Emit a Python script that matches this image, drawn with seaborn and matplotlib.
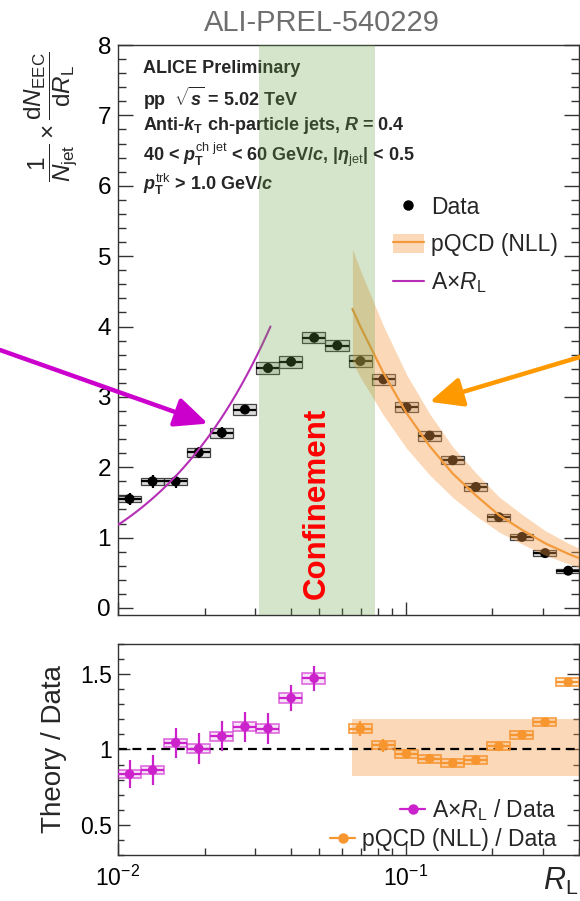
import numpy as np
import pandas as pd
import matplotlib
matplotlib.use("Agg")
import matplotlib.pyplot as plt
import seaborn as sns
from matplotlib.lines import Line2D
from matplotlib.patches import Patch
from matplotlib.ticker import LogLocator, MultipleLocator, NullFormatter, FixedLocator

# ---------------- data ----------------
bin_edges = [0.01, 0.01203, 0.01447, 0.01740, 0.02092, 0.02516, 0.03027, 0.03640,
             0.04378, 0.05265, 0.06332, 0.07616, 0.09160, 0.1102, 0.1325, 0.1593,
             0.1916, 0.2305, 0.2772, 0.3334, 0.4]
rl_centers = [0.01097, 0.01319, 0.01587, 0.01909, 0.02296, 0.02763, 0.03323, 0.03998,
              0.04809, 0.05786, 0.06960, 0.08373, 0.1007, 0.1212, 0.1458, 0.1754,
              0.2110, 0.2538, 0.3053, 0.3673]
eec_data = [1.55, 1.80, 1.80, 2.21, 2.49, 2.82, 3.41, 3.50, 3.84, 3.73,
            3.51, 3.25, 2.85, 2.45, 2.10, 1.72, 1.29, 1.01, 0.78, 0.53]
eec_stat = [0.09, 0.095, 0.09, 0.08, 0.08, 0.07, 0.07, 0.06, 0.06, 0.06,
            0.05, 0.05, 0.05, 0.05, 0.04, 0.04, 0.04, 0.03, 0.03, 0.03]
eec_sys = [0.045, 0.05, 0.05, 0.07, 0.07, 0.076, 0.088, 0.083, 0.078, 0.083,
           0.08, 0.076, 0.071, 0.071, 0.057, 0.059, 0.052, 0.047, 0.047, 0.03]

# pQCD (NLL) curve and its uncertainty band
nll_rl = [0.0653, 0.0696, 0.0837, 0.1007, 0.1212, 0.1458, 0.1754, 0.2110, 0.2538, 0.3053, 0.3673, 0.40]
nll_val = [4.25, 4.00, 3.34, 2.77, 2.30, 1.91, 1.60, 1.32, 1.11, 0.92, 0.77, 0.71]
nll_hi = [5.10, 4.80, 4.01, 3.32, 2.76, 2.29, 1.92, 1.58, 1.33, 1.10, 0.92, 0.85]
nll_lo = [3.49, 3.28, 2.74, 2.27, 1.89, 1.57, 1.31, 1.08, 0.91, 0.75, 0.63, 0.58]

# A x R_L model
lin_A = 118.0
lin_rl_range = [0.01, 0.0339]

# ratio panel
lin_bins = [0, 1, 2, 3, 4, 5, 6, 7, 8]
ratio_lin = [0.836, 0.863, 1.045, 1.006, 1.087, 1.151, 1.139, 1.341, 1.472]
ratio_lin_stat = [0.092, 0.10, 0.10, 0.10, 0.10, 0.10, 0.10, 0.086, 0.083]
ratio_lin_sys = [0.025, 0.025, 0.027, 0.027, 0.028, 0.03, 0.03, 0.035, 0.037]
nll_bins = [10, 11, 12, 13, 14, 15, 16, 17, 18, 19]
ratio_nll = [1.139, 1.028, 0.971, 0.939, 0.910, 0.929, 1.021, 1.097, 1.181, 1.447]
ratio_nll_stat = [0.048, 0.042, 0.02, 0.02, 0.02, 0.02, 0.02, 0.02, 0.02, 0.02]
ratio_nll_sys = [0.027, 0.027, 0.027, 0.027, 0.027, 0.027, 0.027, 0.027, 0.027, 0.027]
ratio_band_rl = [0.0653, 0.40]
ratio_band_lo = [0.823, 0.823]
ratio_band_hi = [1.20, 1.20]

confinement_range = [0.031, 0.078]

# ---------------- style ----------------
sns.set_theme(style="ticks")
plt.rcParams["font.family"] = ["Liberation Sans", "DejaVu Sans"]
plt.rcParams["mathtext.fontset"] = "custom"
plt.rcParams["mathtext.rm"] = "Liberation Sans"
plt.rcParams["mathtext.it"] = "Liberation Sans:bold:italic"
plt.rcParams["mathtext.bf"] = "Liberation Sans:bold"
plt.rcParams["mathtext.sf"] = "Liberation Sans:italic"
plt.rcParams["axes.linewidth"] = 1.0
plt.rcParams["axes.edgecolor"] = "#333333"

MAG_LINE = "#b52eb5"
MAG = "#cc22cc"
ORANGE = "#f29a3c"
ORANGE_PT = "#f7952f"
BAND_ORANGE = (0.96, 0.60, 0.26, 0.38)
GREEN = (0.39, 0.63, 0.27, 0.27)

fig = plt.figure(figsize=(5.8, 9.01), dpi=100)
ax = fig.add_axes([0.2034, 0.3174, 0.7946, 0.6326])
ax2 = fig.add_axes([0.2034, 0.0511, 0.7946, 0.2342])

edges = np.array(bin_edges)
xc = np.array(rl_centers)
lo_e = edges[:-1]
hi_e = edges[1:]
widths = hi_e - lo_e

# ---------------- main panel ----------------
y = np.array(eec_data)
sys_ = np.array(eec_sys)
ax.bar(lo_e, 2 * sys_, width=widths, bottom=y - sys_, align="edge",
       facecolor=(0.6, 0.6, 0.6, 0.35), edgecolor="#444444", linewidth=0.9, zorder=2)
ax.errorbar(xc, y, yerr=eec_stat, xerr=[xc - lo_e, hi_e - xc], fmt="none",
            ecolor="black", elinewidth=1.6, capsize=0, zorder=3)
sns.scatterplot(x=xc, y=y, color="black", s=52, edgecolor="none", ax=ax, zorder=3.2, legend=False)

# pQCD band + line
ax.fill_between(nll_rl, nll_lo, nll_hi, color=BAND_ORANGE, linewidth=0, zorder=3.5)
df_nll = pd.DataFrame({"RL": nll_rl, "val": nll_val})
sns.lineplot(data=df_nll, x="RL", y="val", color=ORANGE, lw=1.6, ax=ax, zorder=4,
             sort=False, estimator=None, legend=False)

# A x R_L line
rl_lin = np.geomspace(lin_rl_range[0], lin_rl_range[1], 200)
df_lin = pd.DataFrame({"RL": rl_lin, "val": lin_A * rl_lin})
sns.lineplot(data=df_lin, x="RL", y="val", color=MAG_LINE, lw=1.5, ax=ax, zorder=4,
             sort=False, estimator=None, legend=False)

# confinement region
ax.axvspan(confinement_range[0], confinement_range[1], color=GREEN, linewidth=0, zorder=5)
ax.text(np.sqrt(confinement_range[0] * confinement_range[1]), 1.48, "Confinement",
        rotation=90, color="red", fontsize=22.5, fontweight="bold",
        ha="center", va="center", zorder=6)

ax.set_xscale("log")
ax.set_xlim(0.01, 0.4)
ax.set_ylim(-0.1, 8.0)
ax.set_xlabel("")
ax.yaxis.set_major_locator(FixedLocator([0, 1, 2, 3, 4, 5, 6, 7, 8]))
ax.set_yticklabels(["0", "1", "2", "3", "4", "5", "6", "7", "8"])
ax.yaxis.set_minor_locator(MultipleLocator(0.2))
ax.xaxis.set_major_locator(LogLocator(base=10, numticks=10))
ax.xaxis.set_minor_locator(LogLocator(base=10, subs=np.arange(2, 10), numticks=20))
ax.xaxis.set_major_formatter(NullFormatter())
ax.xaxis.set_minor_formatter(NullFormatter())
ax.tick_params(axis="y", which="major", direction="in", length=10.5, width=1.0,
               left=True, right=True, labelsize=17.5, pad=5, colors="#333333", labelcolor="black")
ax.tick_params(axis="y", which="minor", direction="in", length=5.5, width=1.0,
               left=True, right=True, colors="#333333")
ax.tick_params(axis="x", which="major", direction="in", length=9.5, width=1.0, bottom=True, top=False, colors="#333333")
ax.tick_params(axis="x", which="minor", direction="in", length=5, width=1.0, bottom=True, top=False, colors="#333333")

ax.set_ylabel(r"$\dfrac{\mathrm{1}}{\mathsf{N}_{\rm jet}}\times\dfrac{\mathrm{d}\mathsf{N}_{\rm EEC}}{\mathrm{d}\mathsf{R}_{\rm L}}$",
              fontsize=17.5, loc="top")
ax.yaxis.set_label_coords(-0.085, 0.99)

# header text
hdr = [
    r"ALICE Preliminary",
    r"pp  $\sqrt{s}$ = 5.02 TeV",
    r"Anti-$k_{\mathbf{T}}$ ch-particle jets, $R$ = 0.4",
    r"40 < $p_{\mathbf{T}}^{\mathrm{ch\ jet}}$ < 60 GeV/$c$, |$\eta_{\mathrm{jet}}$| < 0.5",
    r"$p_{\mathbf{T}}^{\mathrm{trk}}$ > 1.0 GeV/$c$",
]
hdr_y = [0.9596, 0.907, 0.858, 0.807, 0.756]
for t, yy in zip(hdr, hdr_y):
    ax.text(0.054, yy, t, transform=ax.transAxes, fontsize=13, fontweight="bold",
            ha="left", va="center", zorder=4)

# main legend
h_data = Line2D([], [], marker="o", color="black", ls="none", markersize=6.5)
h_nll = (Patch(facecolor=BAND_ORANGE, edgecolor="none"), Line2D([], [], color=ORANGE, lw=1.6))
h_lin = Line2D([], [], color=MAG_LINE, lw=1.5)
leg = ax.legend([h_data, h_nll, h_lin], ["Data", "pQCD (NLL)", r"A$\times$$\mathsf{R}_{\rm L}$"],
                loc="upper left", bbox_to_anchor=(0.5965, 0.735), frameon=False,
                fontsize=16.5, handlelength=1.35, handleheight=0.95, handletextpad=0.3,
                labelspacing=0.62, borderpad=0, borderaxespad=0)

# arrows
ax.annotate("", xy=(0.02054, 2.62), xytext=(0.0, 1 - 350 / 901), textcoords="figure fraction",
            arrowprops=dict(arrowstyle="-|>,head_length=2.0,head_width=0.9", color="#cc00cc",
                            lw=3.2, mutation_scale=10, shrinkA=0, shrinkB=0),
            annotation_clip=False, zorder=7)
ax.annotate("", xy=(0.1212, 2.93), xytext=(1.0, 1 - 357 / 901), textcoords="figure fraction",
            arrowprops=dict(arrowstyle="-|>,head_length=2.0,head_width=0.9", color="#ff9900",
                            lw=3.2, mutation_scale=10, shrinkA=0, shrinkB=0),
            annotation_clip=False, zorder=7)

# ---------------- ratio panel ----------------
ax2.fill_between(ratio_band_rl, ratio_band_lo, ratio_band_hi, color=BAND_ORANGE, linewidth=0, zorder=1)
ax2.axhline(1.0, color="black", lw=1.6, ls=(0, (4, 2.5)), zorder=2)

lb = np.array(lin_bins)
rl_ = np.array(ratio_lin)
s_ = np.array(ratio_lin_sys)
ax2.bar(lo_e[lb], 2 * s_, width=widths[lb], bottom=rl_ - s_, align="edge",
        facecolor=(0.8, 0.13, 0.8, 0.12), edgecolor=(0.8, 0.13, 0.8, 0.6), linewidth=1.3, zorder=3)
ax2.errorbar(xc[lb], rl_, yerr=ratio_lin_stat, xerr=[xc[lb] - lo_e[lb], hi_e[lb] - xc[lb]],
             fmt="none", ecolor=MAG, elinewidth=1.6, capsize=0, zorder=4)
sns.scatterplot(x=xc[lb], y=rl_, color=MAG, s=48, edgecolor="none", ax=ax2, zorder=5, legend=False)

nb = np.array(nll_bins)
rn_ = np.array(ratio_nll)
sn_ = np.array(ratio_nll_sys)
ax2.bar(lo_e[nb], 2 * sn_, width=widths[nb], bottom=rn_ - sn_, align="edge",
        facecolor=(0.97, 0.58, 0.18, 0.15), edgecolor=(0.97, 0.58, 0.18, 0.85), linewidth=1.3, zorder=3)
ax2.errorbar(xc[nb], rn_, yerr=ratio_nll_stat, xerr=[xc[nb] - lo_e[nb], hi_e[nb] - xc[nb]],
             fmt="none", ecolor=ORANGE_PT, elinewidth=1.6, capsize=0, zorder=4)
sns.scatterplot(x=xc[nb], y=rn_, color=ORANGE_PT, s=48, edgecolor="none", ax=ax2, zorder=5, legend=False)

ax2.set_xscale("log")
ax2.set_xlim(0.01, 0.4)
ax2.set_ylim(0.3, 1.7)
ax2.yaxis.set_major_locator(FixedLocator([0.5, 1.0, 1.5]))
ax2.set_yticklabels(["0.5", "1", "1.5"])
ax2.yaxis.set_minor_locator(MultipleLocator(0.1))
ax2.xaxis.set_major_locator(LogLocator(base=10, numticks=10))
ax2.xaxis.set_minor_locator(LogLocator(base=10, subs=np.arange(2, 10), numticks=20))
ax2.xaxis.set_minor_formatter(NullFormatter())
ax2.tick_params(axis="y", which="major", direction="in", length=8.5, width=1.0,
                left=True, right=True, labelsize=16.5, pad=4, colors="#333333", labelcolor="black")
ax2.tick_params(axis="y", which="minor", direction="in", length=4.5, width=1.0,
                left=True, right=True, colors="#333333")
ax2.tick_params(axis="x", which="major", direction="in", length=9, width=1.0, bottom=True, top=False,
                labelsize=16.5, pad=8, colors="#333333", labelcolor="black")
ax2.tick_params(axis="x", which="minor", direction="in", length=5, width=1.0, bottom=True, top=False, colors="#333333")

ax2.set_ylabel("Theory / Data", fontsize=20)
ax2.yaxis.set_label_coords(-0.11, 0.5)
ax2.set_xlabel(r"$\mathsf{R}_{\rm L}$", fontsize=22, loc="right")
ax2.xaxis.set_label_coords(1.0, -0.05)

h_r1 = Line2D([], [], color=MAG, marker="o", lw=1.6, markersize=6.5)
h_r2 = Line2D([], [], color=ORANGE_PT, marker="o", lw=1.6, markersize=6.5)
leg2 = ax2.legend([h_r1, h_r2], [r"A$\times$$\mathsf{R}_{\rm L}$ / Data", "pQCD (NLL) / Data"],
                  loc="lower right", bbox_to_anchor=(0.952, 0.02), frameon=False,
                  fontsize=16.5, handlelength=1.1, handletextpad=0.3, labelspacing=0.2,
                  borderpad=0, borderaxespad=0)
try:
    leg2._legend_handle_box.get_children()[0].align = "right"
except Exception:
    pass

fig.text(0.555, 0.974, "ALI-PREL-540229", color="#6e6e6e", fontsize=21, ha="center", va="center")

fig.savefig("out.png", dpi=100)
